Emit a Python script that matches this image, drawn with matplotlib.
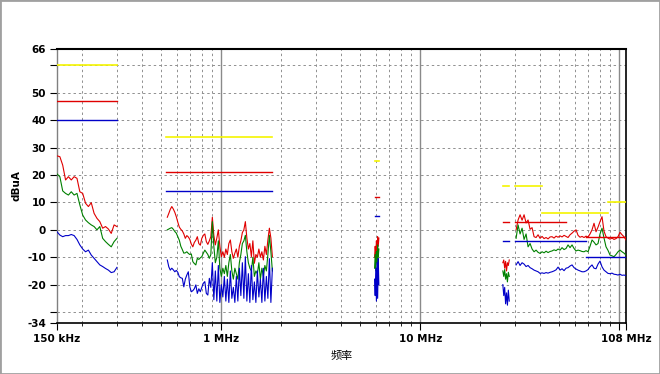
import numpy as np
import matplotlib
matplotlib.use("Agg")
import matplotlib.pyplot as plt
from matplotlib.patches import Rectangle

plt.rcParams["font.family"] = ["DejaVu Sans"]

# limit lines: (start MHz, stop MHz, level dBuA)
yellow_limits = [(0.15, 0.30, 60), (0.53, 1.8, 34), (5.9, 6.2, 25), (26, 28, 16),
                 (30, 41, 16), (41, 88, 6), (88, 108, 10)]
red_limits = [(0.15, 0.30, 47), (0.53, 1.8, 21), (5.9, 6.2, 12), (26, 28, 3),
              (30, 54, 3), (68, 108, -2.5)]
blue_limits = [(0.15, 0.30, 40), (0.53, 1.8, 14), (5.9, 6.2, 5), (26, 28, -4),
               (30, 68, -4), (68, 108, -10)]

# sweep bands (start MHz, stop MHz)
bands = [(0.15, 0.30), (0.537, 1.81), (5.9, 6.2), (26, 28), (30.3, 108)]

# band 1: 150-300 kHz
red_1 = [27, 26.7, 23.6, 18.2, 19.4, 18.2, 19.4, 18.8, 13.9, 13.3, 9.7, 8.5, 9.9, 6, 4.2,
         3, 0.6, 1.2, 0.3, -1.3, 1.8, 1.2]
green_1 = [20.4, 19.4, 14.2, 13.3, 12.7, 13.9, 12.7, 13.3, 9.1, 5.4, 3.6, 2.6, 1.8, 1.2,
           0, 1.2, -3.1, -4.3, -5.3, -6.2, -4.3, -3.1]
blue_1 = [-0.7, -1.9, -2.5, -2.1, -2.1, -1.7, -2.1, -3.5, -5.5, -7.0, -8.0, -7.4, -9.2,
          -10.4, -11.6, -12.8, -13.4, -14.1, -14.7, -15.6, -15.3, -13.7]

# band 2: 0.53-1.8 MHz
red_2 = [4.6, 6.0, 7.5, 8.5, 7.6, 6.4, 4.8, 2.8, 1.0, 0.2, -0.4, -1.5, -3.1, -2.1, -2.6,
         -3.5, -5.2, -6.2, -4.6, -3.8, -2.5, -5.0, -5.6, -3.1, -2.0, -1.5, -4.3, -5.3, -4.0,
         -2.5,
         4.6, -2, -5.5, -3, 0, -6, -9.8, -8, -10, -7, -9, -5, -3.7, -8, -10.4, -8.5, -7, -10,
         -6, -4, -1, 0, 3, -3, -7, -5, -9.8, -4, -12.2, -9, -10, -7, -10, -8, -11, -6, -9,
         -3.7, 0.6, -3, -9.8]
green_2 = [0, 0.3, 0.6, 0.8, 0.2, -0.6, -1.2, -2.5, -3.8, -6.0, -7.2, -8.5, -8.4, -8.0,
           -8.6, -9.0, -8.8, -11.6, -12.3, -12.8, -10.4, -10.8, -10.2, -9.8, -8.5, -7.4,
           -8.2, -9.0, -10.4, -9.0,
           3.0, -6, -12, -10, -4, -14, -17, -14, -16, -13, -17, -12, -9, -15, -18, -14, -16,
           -18, -12, -9, -5, -4, -2, -8, -12, -14, -15, -10, -17, -15, -16, -12, -18, -14,
           -17, -13, -15, -9, -2, -8, -15]
blue_2 = [-11.0, -13.5, -14.7, -14.0, -14.6, -15.3, -14.8, -15.5, -17.1, -17.5, -17.7,
          -20.8, -18.0, -16.5, -15.3, -20.8, -22.6, -22.2, -21.5, -20.1, -23.2, -21.5,
          -22.6, -21.0, -19.5, -18.9, -23.2, -23.8, -17.7, -21.0,
          -12, -25.5, -15, -26, -13, -26.5, -20, -24.5, -17, -26, -18, -26.5, -15, -25, -21,
          -26.5, -17, -26, -14, -24, -12, -25, -9.8, -26, -16, -26.5, -13, -25.5, -19,
          -26.5, -15, -24.5, -18, -26.5, -14, -26, -17, -25, -10.5, -26.5, -14]

# band 3: 5.9-6.2 MHz
red_3 = [-10, -6, -9, -4, -8, -2.5, -6, -3]
green_3 = [-14, -9, -15, -8, -12, -5.5, -10, -7]
blue_3 = [-18, -24, -14, -26, -12, -25, -10.5, -20]

# band 4: 26-28 MHz
red_4 = [-12, -11, -14, -11.5, -15, -12, -13, -11]
green_4 = [-15, -17, -14.5, -18, -16, -19, -15.5, -17]
blue_4 = [-20, -24, -21, -27, -23, -27.5, -22, -26]

# band 5: 30-108 MHz
red_5 = [0, 3.6, 5.5, 3.5, 5.5, 2.5, 3.6, 0.2, 0.8, -2.5, -2.8, -1.8, -3.1, -2.4, -3.2,
         -2.8, -3.3, -2.6, -2.5, -3.0, -2.3, -2.7, -2.2, -2.6, -2.0, -2.4, -2.8, -1.8, -1.2,
         -0.5, 0, -2.0, -2.7, -2.4, -2.8, -2.3, -2.6, -1.5, 0, 2.4, -0.7, 1.0, 3.0, 4.8,
         -0.5, -2.5, -3.0, -3.4, -3.0, -3.5, -3.2, -2.5, -0.9, -1.8, -2.5, -3.7]
green_5 = [-3.1, 1.8, -1.5, 0.6, -3.5, -1.5, -6.2, -5.0, -7.0, -8.0, -7.4, -8.2, -8.6,
           -8.0, -8.4, -7.8, -8.3, -7.9, -7.7, -7.3, -7.6, -7.0, -7.4, -6.5, -7.2, -6.8,
           -5.5, -6.5, -5.5, -6.8, -7.7, -7.4, -7.6, -7.9, -8.0, -7.6, -8.0, -6.0, -3.7,
           -4.5, -5.5, -5.0, -1.5, 0.6, -3.0, -6.2, -7.5, -9.2, -9.5, -9.8, -9.0, -8.0,
           -7.4, -8.0, -8.5, -9.2]
blue_5 = [-12.8, -11.6, -13.0, -12.0, -12.5, -13.4, -13.0, -13.8, -14.2, -14.7, -15.0,
          -15.3, -15.9, -15.7, -15.9, -15.6, -15.8, -15.5, -15.3, -15.0, -14.6, -13.6,
          -14.7, -14.2, -14.9, -14.0, -13.8, -13.2, -12.8, -13.8, -14.3, -14.7, -15.0,
          -15.3, -15.3, -15.0, -14.5, -13.5, -12.8, -14.0, -14.2, -12.5, -11.4, -13.5,
          -14.7, -15.3, -15.9, -16.0, -15.8, -16.2, -16.3, -16.5, -16.2, -16.6, -16.5, -16.7]

reds = [red_1, red_2, red_3, red_4, red_5]
greens = [green_1, green_2, green_3, green_4, green_5]
blues = [blue_1, blue_2, blue_3, blue_4, blue_5]

y_ticks = [66, 60, 50, 40, 30, 20, 10, 0, -10, -20, -30, -34]
y_labels = ["66", "", "50", "40", "30", "20", "10", "0", "-10", "-20", "", "-34"]
x_ticks = [0.15, 1, 10, 100, 108]
x_labels = ["150 kHz", "1 MHz", "10 MHz", "", "108 MHz"]
x_minor = [m * d for d in (0.1, 1, 10) for m in range(2, 10) if m * d > 0.15]

RED, GREEN, BLUE, YELLOW = "#e00000", "#008000", "#0000c8", "#f5f500"

fig = plt.figure(figsize=(6.6, 3.74), dpi=100)
ax = fig.add_axes([57 / 660, 1 - 323 / 374, 569 / 660, 274 / 374])

# grid
grid_kw = dict(color="#909090", lw=0.7, ls=(0, (2.5, 3)), zorder=1)
for lvl in range(-30, 61, 10):
    ax.axhline(lvl, **grid_kw)
for f in x_minor:
    ax.axvline(f, **grid_kw)
for f in (1, 10, 100):
    ax.axvline(f, color="#8a8a8a", lw=1.0, zorder=1)

# measured traces
for (f0, f1), r, g, b in zip(bands, reds, greens, blues):
    ax.plot(np.geomspace(f0, f1, len(r)), r, color=RED, lw=0.8, zorder=3)
    ax.plot(np.geomspace(f0, f1, len(g)), g, color=GREEN, lw=0.8, zorder=4)
    ax.plot(np.geomspace(f0, f1, len(b)), b, color=BLUE, lw=0.8, zorder=5)

# limit lines
for limits, c in ((yellow_limits, YELLOW), (red_limits, RED), (blue_limits, BLUE)):
    for f0, f1, lvl in limits:
        ax.plot([f0, f1], [lvl, lvl], color=c, lw=1.2 if c == YELLOW else 1.0, zorder=6)

ax.set_xscale("log")
ax.set_xlim(0.15, 108)
ax.set_ylim(-34, 66)
ax.set_xticks(x_ticks)
ax.set_xticklabels(x_labels, fontweight="bold", fontsize=7.5)
ax.set_xticks(x_minor, minor=True)
ax.set_xticklabels([], minor=True)
ax.set_yticks(y_ticks)
ax.set_yticklabels(y_labels, fontweight="bold", fontsize=7.5)
ax.tick_params(axis="both", which="major", length=5, width=0.8, color="#000000", pad=3)
ax.tick_params(axis="x", which="minor", length=2.5, width=0.6)

for side in ("top", "bottom", "right"):
    ax.spines[side].set_color("black")
ax.spines["top"].set_linewidth(1.5)
ax.spines["bottom"].set_linewidth(1.2)
ax.spines["right"].set_linewidth(1.2)
ax.spines["left"].set_color("#808080")
ax.spines["left"].set_linewidth(1.0)

ax.set_ylabel("dBuA", fontweight="bold", fontsize=7.5, labelpad=4)
ax.set_xlabel("频率", family=["Noto Sans CJK SC", "DejaVu Sans"], fontsize=8, labelpad=5)

fig.patches.append(Rectangle((0, 0), 1, 1, transform=fig.transFigure, fill=False,
                             edgecolor="#a0a0a0", lw=2))

fig.savefig("out.png", dpi=100, facecolor="white")
